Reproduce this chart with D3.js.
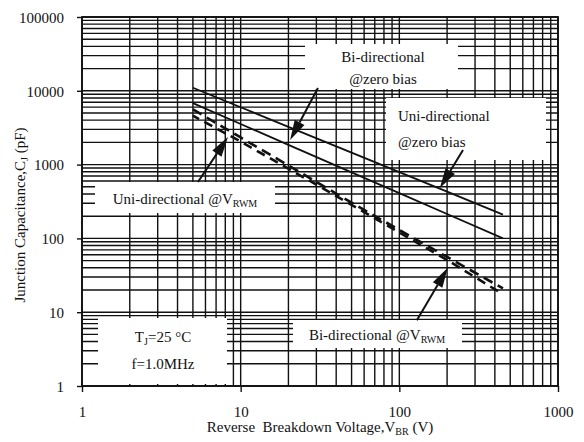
<!DOCTYPE html>
<html><head><meta charset="utf-8">
<script src="https://cdn.jsdelivr.net/npm/d3@7"></script>
<style>
body{margin:0;background:#fff;}
text{font-family:"Liberation Serif","Times New Roman",serif;fill:#111;}
</style></head>
<body><svg id="c" width="584" height="442"></svg>
<script>
// ---- data ----
const voltages = [5, 10, 20, 50, 100, 200, 450];
const uniZeroBias = [11000, 5980, 3250, 1450, 790, 430, 210];
const biZeroBias  = [6800, 3550, 1850, 785, 410, 214, 100];
const uniVrwm     = [5600, 2330, 975, 305, 130, 56, 21];
const biVrwm      = [4600, 2050, 880, 285, 120, 51, 17.5];
const xTicks = [1, 10, 100, 1000];
const yTicks = [1, 10, 100, 1000, 10000, 100000];

// ---- layout ----
const svg = d3.select("#c");
const x = d3.scaleLog().domain([1, 1000]).range([82, 558]);
const y = d3.scaleLog().domain([1, 100000]).range([386, 17]);

// grid
const gx = [], gy = [];
for (let d = 0; d < 3; d++) for (let k = 1; k <= 9; k++) gx.push(k * Math.pow(10, d));
gx.push(1000);
for (let d = 0; d < 5; d++) for (let k = 1; k <= 9; k++) gy.push(k * Math.pow(10, d));
gy.push(100000);
const grid = svg.append("g").attr("stroke", "#111").attr("stroke-width", 1.4);
grid.selectAll("line.v").data(gx).join("line").attr("class","v")
  .attr("x1", d => x(d)).attr("x2", d => x(d)).attr("y1", y(1)).attr("y2", y(100000));
grid.selectAll("line.h").data(gy).join("line").attr("class","h")
  .attr("y1", d => y(d)).attr("y2", d => y(d)).attr("x1", x(1)).attr("x2", x(1000));

// label boxes (white masks)
const boxes = [
  {x0: 305, y0: 44, x1: 458, y1: 89},
  {x0: 386, y0: 98, x1: 546, y1: 160},
  {x0: 95, y0: 182, x1: 275, y1: 213},
  {x0: 98, y0: 318, x1: 227, y1: 384},
  {x0: 293, y0: 320, x1: 462, y1: 348}
];
svg.append("g").selectAll("rect").data(boxes).join("rect")
  .attr("x", d => d.x0).attr("y", d => d.y0)
  .attr("width", d => d.x1 - d.x0).attr("height", d => d.y1 - d.y0)
  .attr("fill", "#fff");

// frame
svg.append("rect").attr("x", x(1)).attr("y", y(100000))
  .attr("width", x(1000) - x(1)).attr("height", y(1) - y(100000))
  .attr("fill", "none").attr("stroke", "#111").attr("stroke-width", 1.8);

// axes
const ax = svg.append("g").attr("transform", `translate(0,${y(1)})`)
  .call(d3.axisBottom(x).tickValues(xTicks).tickFormat(d3.format("d")).tickSize(6).tickPadding(14));
const ay = svg.append("g").attr("transform", `translate(${x(1)},0)`)
  .call(d3.axisLeft(y).tickValues(yTicks).tickFormat(d3.format("d")).tickSize(5).tickPadding(13));
[ax, ay].forEach(a => {
  a.select(".domain").remove();
  a.selectAll(".tick line").attr("stroke", "#111").attr("stroke-width", 1.4);
  a.selectAll(".tick text").attr("font-size", 15).attr("font-family", "Liberation Serif").attr("fill", "#111");
});
ay.selectAll(".tick text").attr("dy", "0.35em");

// series lines
const line = vals => d3.line().x((d, i) => x(voltages[i])).y(d => y(d))(vals);
svg.append("path").attr("d", line(uniZeroBias)).attr("fill","none").attr("stroke","#111").attr("stroke-width",1.8);
svg.append("path").attr("d", line(biZeroBias)).attr("fill","none").attr("stroke","#111").attr("stroke-width",1.8);
svg.append("path").attr("d", line(uniVrwm)).attr("fill","none").attr("stroke","#111").attr("stroke-width",2.6).attr("stroke-dasharray","10,6");
svg.append("path").attr("d", line(biVrwm)).attr("fill","none").attr("stroke","#111").attr("stroke-width",2.6).attr("stroke-dasharray","9,6").attr("stroke-dashoffset",2);

// arrows (data coordinates)
const arrows = [
  {from: [30.7, 10900], to: [20.5, 2150]},
  {from: [252, 1580], to: [180, 480]},
  {from: [5.38, 580], to: [8.32, 2370]},
  {from: [129, 7.8], to: [202, 40]}
];
arrows.forEach(a => {
  const x0 = x(a.from[0]), y0 = y(a.from[1]), x1 = x(a.to[0]), y1 = y(a.to[1]);
  const dx = x1 - x0, dy = y1 - y0, L = Math.hypot(dx, dy), ux = dx / L, uy = dy / L;
  const hl = 20, hw = 5.5;
  const bx = x1 - ux * hl, by = y1 - uy * hl;
  svg.append("line").attr("x1", x0).attr("y1", y0).attr("x2", bx).attr("y2", by)
    .attr("stroke", "#111").attr("stroke-width", 2);
  svg.append("path").attr("d", `M${x1},${y1}L${bx - uy * hw},${by + ux * hw}L${bx + uy * hw},${by - ux * hw}Z`)
    .attr("fill", "#111");
});

// label texts
const lab = svg.append("g").attr("font-size", 15);
lab.append("text").attr("x", 383).attr("y", 62).attr("text-anchor","middle").text("Bi-directional");
lab.append("text").attr("x", 383).attr("y", 84).attr("text-anchor","middle").text("@zero bias");
lab.append("text").attr("x", 398).attr("y", 121).text("Uni-directional");
lab.append("text").attr("x", 398).attr("y", 147).text("@zero bias");
const t3 = lab.append("text").attr("x", 185).attr("y", 204).attr("text-anchor","middle");
t3.append("tspan").text("Uni-directional @V");
t3.append("tspan").attr("font-size", 10).attr("dy", 3).text("RWM");
const t4 = lab.append("text").attr("x", 163).attr("y", 342).attr("text-anchor","middle");
t4.append("tspan").text("T");
t4.append("tspan").attr("font-size", 10).attr("dy", 3).text("J");
t4.append("tspan").attr("dy", -3).text("=25 °C");
lab.append("text").attr("x", 163).attr("y", 369).attr("text-anchor","middle").text("f=1.0MHz");
const t5 = lab.append("text").attr("x", 377).attr("y", 340).attr("text-anchor","middle");
t5.append("tspan").text("Bi-directional @V");
t5.append("tspan").attr("font-size", 10).attr("dy", 3).text("RWM");

// axis titles
const xt = svg.append("text").attr("x", 320).attr("y", 432).attr("text-anchor","middle").attr("font-size", 15);
xt.append("tspan").text("Reverse\u00a0 Breakdown Voltage,V");
xt.append("tspan").attr("font-size", 10).attr("dy", 3).text("BR");
xt.append("tspan").attr("dy", -3).text(" (V)");
const yt = svg.append("text").attr("transform", "translate(25,215) rotate(-90)").attr("text-anchor","middle").attr("font-size", 15);
yt.append("tspan").text("Junction Capacitance,C");
yt.append("tspan").attr("font-size", 10).attr("dy", 3).text("J");
yt.append("tspan").attr("dy", -3).text(" (pF)");
</script></body></html>
